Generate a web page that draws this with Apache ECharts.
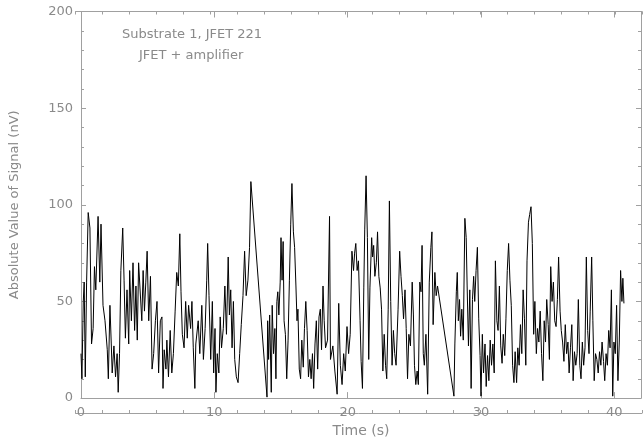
<!DOCTYPE html>
<html>
<head>
<meta charset="utf-8">
<script src="https://cdn.jsdelivr.net/npm/echarts@6/dist/echarts.min.js"></script>
<style>
html,body{margin:0;padding:0;background:#fff;}
#chart{width:644px;height:443px;}
</style>
</head>
<body>
<div id="chart"></div>
<script>
// Time (s) of each sample
const time = [
0.00,0.07,0.17,0.24,0.32,0.42,0.54,0.67,0.79,0.91,1.01,1.11,1.28,1.41,1.50,1.65,1.80,1.97,2.05,2.17,
2.27,2.34,2.47,2.59,2.71,2.79,2.89,2.99,3.13,3.23,3.33,3.45,3.58,3.65,3.78,3.90,4.02,4.12,4.22,4.32,
4.44,4.56,4.66,4.76,4.86,4.96,5.08,5.21,5.33,5.45,5.58,5.70,5.82,5.95,6.07,6.15,6.24,6.37,6.44,6.56,
6.69,6.81,6.93,7.06,7.18,7.30,7.41,7.50,7.60,7.73,7.85,7.97,8.07,8.22,8.32,8.42,8.54,8.61,8.79,8.91,
9.06,9.18,9.31,9.43,9.50,9.60,9.73,9.85,9.95,10.05,10.12,10.22,10.34,10.44,10.54,10.67,10.79,10.91,11.04,11.13,
11.23,11.33,11.43,11.53,11.65,11.78,11.90,12.02,12.15,12.27,12.39,12.52,12.64,12.74,
13.95,14.00,14.07,14.15,14.27,14.34,14.44,14.54,14.62,14.69,14.76,14.84,14.94,15.00,15.08,15.16,15.23,15.33,15.43,15.53,
15.63,15.73,15.82,15.93,16.02,16.12,16.20,16.27,16.37,16.47,16.56,16.67,16.76,16.86,16.96,17.06,17.16,17.26,17.36,17.45,
17.55,17.65,17.75,17.85,17.95,18.04,18.15,18.24,18.34,18.49,18.64,18.71,18.89,19.04,19.21,19.33,19.45,19.58,19.70,19.82,
19.95,20.07,20.19,20.32,20.44,20.52,20.61,20.71,20.81,20.93,21.01,21.11,21.21,21.28,21.38,21.48,21.58,21.67,21.80,21.87,
21.95,22.04,22.15,22.24,22.34,22.44,22.54,22.64,22.74,22.84,22.93,23.04,23.13,23.23,23.33,23.43,23.53,23.63,23.78,23.90,
24.00,24.10,24.19,24.30,24.39,24.49,24.59,24.71,24.84,24.93,25.01,25.11,25.21,25.30,25.41,25.50,25.58,25.67,25.75,25.87,
26.00,26.12,26.24,26.32,26.41,26.54,26.64,26.74,
27.97,28.04,28.15,28.22,28.30,28.39,28.47,28.56,28.67,28.79,28.89,28.96,29.06,29.16,29.26,29.36,29.45,29.53,29.63,29.73,
29.83,29.93,30.00,30.10,30.19,30.30,30.39,30.49,30.59,30.69,30.79,30.89,30.99,31.08,31.19,31.28,31.38,31.48,31.58,31.67,
31.78,31.87,31.97,32.07,32.17,32.27,32.37,32.47,32.56,32.67,32.76,32.86,32.96,33.06,33.16,33.26,33.36,33.45,33.56,33.65,
33.75,33.85,33.95,34.04,34.15,34.24,34.34,34.44,34.54,34.64,34.74,34.84,34.93,35.04,35.13,35.23,35.33,35.43,35.53,35.63,
35.73,35.82,35.93,36.02,36.12,36.22,36.32,36.42,36.52,36.61,36.71,36.81,36.91,37.01,37.11,37.21,37.30,37.41,37.50,37.60,
37.70,37.80,37.90,38.00,38.10,38.19,38.30,38.39,38.49,38.59,38.69,38.79,38.89,38.99,39.08,39.19,39.28,39.38,39.48,39.58,
39.68,39.78,39.88,39.97,40.07,40.17,40.27,40.37,40.47,40.57,40.64,40.72
];
// Absolute value of signal (nV)
const signal = [
23,10,50,60,11,60,96,88,28,36,68,56,94,60,90,48,40,25,10,48,
28,13,27,11,23,3,23,66,88,61,31,56,28,66,40,70,35,58,30,70,
71,40,66,45,60,76,40,63,15,23,40,50,13,40,42,5,25,15,30,11,
35,13,23,45,65,58,85,55,33,26,50,31,48,36,50,26,5,28,40,23,
48,20,36,61,80,53,20,50,13,36,3,23,13,42,26,36,58,33,73,43,
56,26,50,20,11,8,23,38,53,76,53,61,78,112,
0.5,40,20,43,3,48,23,36,10,50,55,43,60,83,61,81,40,33,10,30,
61,90,111,86,78,58,40,46,15,10,30,16,36,50,35,11,20,10,23,5,
28,40,15,42,46,25,58,40,26,30,94,20,27,14,2,49,17,7,23,14,
37,23,33,76,66,75,80,66,71,40,19,5,57,87,115,83,20,57,83,73,
79,63,70,86,63,57,46,14,33,17,10,46,102,50,17,35,23,17,46,76,
63,53,41,56,36,10,33,27,60,43,17,7,14,7,60,55,79,23,17,33,
2,60,78,86,38,65,53,58,
1,28,55,65,40,51,32,46,30,93,83,58,27,56,5,51,63,50,66,78,
41,22,1,33,13,28,6,22,9,30,17,28,13,71,40,35,58,27,18,33,
22,41,66,80,61,48,17,8,24,8,26,17,38,23,56,41,17,71,91,95,
99,80,33,50,23,36,29,45,23,9,40,29,51,38,20,68,50,60,40,37,
51,73,45,35,29,19,38,23,29,13,26,38,9,24,17,23,51,17,10,29,
17,26,73,35,23,45,73,40,9,23,20,13,24,17,29,19,9,23,17,35,
26,56,1,29,23,48,9,29,66,50,62,49
];
// Axis ticks
const xMajorTicks = [0, 10, 20, 30, 40];
const yMajorTicks = [0, 50, 100, 150, 200];
const annotations = ['Substrate 1, JFET 221', 'JFET + amplifier'];

const AXIS_COLOR = '#a0a0a0';
const TEXT_COLOR = '#8a8a8a';
const FONT = 'DejaVu Sans';

const chart = echarts.init(document.getElementById('chart'), null, {renderer: 'canvas'});

const points = time.map((t, i) => [t, signal[i]]);
const gridBox = {left: 75.5, right: 2, top: 11.5, bottom: 30};

function xAxisDef(gridIndex, pos, interval, tickLen, showLabel, name) {
  return {
    type: 'value', gridIndex, position: pos, min: 0, max: 42, interval,
    name: name || '', nameLocation: 'middle', nameGap: 21,
    nameTextStyle: {color: TEXT_COLOR, fontSize: 14, fontFamily: FONT},
    axisLine: {show: true, onZero: false, lineStyle: {color: AXIS_COLOR, width: 1}},
    axisTick: {show: true, inside: true, length: tickLen, lineStyle: {color: AXIS_COLOR}},
    axisLabel: {show: showLabel, color: TEXT_COLOR, fontSize: 13, fontFamily: FONT, margin: 8,
      formatter: v => xMajorTicks.includes(v) ? String(v) : ''},
    splitLine: {show: false}
  };
}
function yAxisDef(pos, showLabel, name) {
  return {
    type: 'value', gridIndex: 0, position: pos, min: 0, max: 200, interval: 50,
    name: name || '', nameLocation: 'middle', nameGap: 60,
    nameTextStyle: {color: TEXT_COLOR, fontSize: 13, fontFamily: FONT},
    axisLine: {show: true, onZero: false, lineStyle: {color: AXIS_COLOR, width: 1}},
    axisTick: {show: true, inside: true, length: 5, lineStyle: {color: AXIS_COLOR}},
    minorTick: {show: true, splitNumber: 5, length: 3, lineStyle: {color: AXIS_COLOR}},
    axisLabel: {show: showLabel, color: TEXT_COLOR, fontSize: 13, fontFamily: FONT, margin: 8,
      formatter: v => yMajorTicks.includes(v) ? String(v) : ''},
    splitLine: {show: false}
  };
}

chart.setOption({
  animation: false,
  backgroundColor: '#ffffff',
  grid: [
    Object.assign({containLabel: false}, gridBox),
    Object.assign({containLabel: false}, gridBox)
  ],
  xAxis: [
    xAxisDef(0, 'bottom', 10, 6, true, 'Time (s)'),
    xAxisDef(0, 'top', 10, 6, false),
    xAxisDef(1, 'bottom', 2, 3, false),
    xAxisDef(1, 'top', 2, 3, false)
  ],
  yAxis: [
    yAxisDef('left', true, 'Absolute Value of Signal (nV)'),
    yAxisDef('right', false),
    {type: 'value', gridIndex: 1, min: 0, max: 200, show: false}
  ],
  graphic: [
    {type: 'text', left: 122, top: 28, silent: true,
      style: {text: annotations[0], fill: TEXT_COLOR, font: '13px "DejaVu Sans"'}},
    {type: 'text', left: 139, top: 49, silent: true,
      style: {text: annotations[1], fill: TEXT_COLOR, font: '13px "DejaVu Sans"'}}
  ],
  series: [{
    type: 'line',
    xAxisIndex: 0, yAxisIndex: 0,
    data: points,
    showSymbol: false,
    symbol: 'none',
    sampling: null,
    lineStyle: {color: '#000000', width: 1},
    z: 3
  }]
});
</script>
</body>
</html>
